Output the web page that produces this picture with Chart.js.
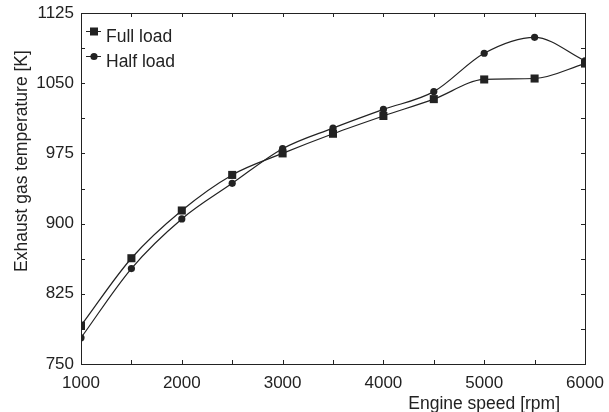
<!DOCTYPE html>
<html>
<head>
<meta charset="utf-8">
<script src="https://cdn.jsdelivr.net/npm/chart.js@4.4.0/dist/chart.umd.min.js"></script>
<style>
  html, body { margin: 0; padding: 0; background: #fff; }
  #wrap { width: 609px; height: 412px; }
</style>
</head>
<body>
<div id="wrap"><canvas id="chart1"></canvas></div>
<script>
const rpm = [1000, 1500, 2000, 2500, 3000, 3500, 4000, 4500, 5000, 5500, 6000];
const fullLoad = [791, 863, 914, 952, 975, 996, 1015, 1033, 1054, 1055, 1071];
const halfLoad = [778, 852, 905, 943, 980, 1002, 1022, 1041, 1082, 1099, 1074];
const seriesNames = ['Full load', 'Half load'];
const xTitle = 'Engine speed [rpm]';
const yTitle = 'Exhaust gas temperature [K]';

const ink = '#222';
const font = '"Liberation Sans", Arial, sans-serif';

function pts(ys) {
    return rpm.map((x, i) => ({x: x, y: ys[i]}));
}

// frame with inward ticks, axis titles and the legend inside the plot
const framePlugin = {
    id: 'frame',
    afterDraw(chart) {
        const ctx = chart.ctx;
        const a = chart.chartArea;
        const xs = chart.scales.x, ys = chart.scales.y;
        ctx.save();
        ctx.strokeStyle = ink;
        ctx.lineWidth = 1;
        ctx.strokeRect(Math.round(a.left) + 0.5, Math.round(a.top) + 0.5,
            Math.round(a.right - a.left), Math.round(a.bottom - a.top));
        ctx.beginPath();
        xs.ticks.forEach(t => {
            const px = Math.round(xs.getPixelForValue(t.value)) + 0.5;
            ctx.moveTo(px, a.bottom); ctx.lineTo(px, a.bottom - 4);
            ctx.moveTo(px, a.top); ctx.lineTo(px, a.top + 4);
        });
        ys.ticks.forEach(t => {
            const py = Math.round(ys.getPixelForValue(t.value)) + 0.5;
            ctx.moveTo(a.left, py); ctx.lineTo(a.left + 4, py);
            ctx.moveTo(a.right, py); ctx.lineTo(a.right - 4, py);
        });
        ctx.stroke();

        ctx.fillStyle = ink;
        ctx.font = '17.5px ' + font;
        ctx.textAlign = 'right';
        ctx.textBaseline = 'alphabetic';
        ctx.fillText(xTitle, 560, 409);

        ctx.save();
        ctx.translate(27, 161);
        ctx.rotate(-Math.PI / 2);
        ctx.textAlign = 'center';
        ctx.fillText(yTitle, 0, 0);
        ctx.restore();

        // legend
        const rows = [{y: 31, style: 'rect'}, {y: 56, style: 'circle'}];
        rows.forEach((r, i) => {
            ctx.beginPath();
            ctx.moveTo(86, r.y + 0.5); ctx.lineTo(101, r.y + 0.5);
            ctx.stroke();
            if (r.style === 'rect') {
                ctx.fillRect(90, r.y - 3.5, 8, 8);
            } else {
                ctx.beginPath();
                ctx.arc(94, r.y + 0.5, 3.6, 0, Math.PI * 2);
                ctx.fill();
            }
            ctx.textAlign = 'left';
            ctx.fillText(seriesNames[i], 106, r.y + 11);
        });
        ctx.restore();
    }
};

new Chart(document.getElementById('chart1'), {
    type: 'line',
    data: {
        datasets: [{
            label: seriesNames[0],
            data: pts(fullLoad),
            borderColor: ink,
            backgroundColor: ink,
            borderWidth: 1.2,
            pointStyle: 'rect',
            pointRadius: 5.7,
            pointBorderWidth: 0,
            cubicInterpolationMode: 'monotone',
            clip: 0
        }, {
            label: seriesNames[1],
            data: pts(halfLoad),
            borderColor: ink,
            backgroundColor: ink,
            borderWidth: 1.2,
            pointStyle: 'circle',
            pointRadius: 3.6,
            pointBorderWidth: 0,
            cubicInterpolationMode: 'monotone',
            clip: 0
        }]
    },
    options: {
        responsive: true,
        maintainAspectRatio: false,
        animation: false,
        events: [],
        layout: {padding: {left: 0, right: 24, top: 13, bottom: 0}},
        plugins: {
            legend: {display: false},
            tooltip: {enabled: false}
        },
        scales: {
            x: {
                type: 'linear',
                min: 1000,
                max: 6000,
                grid: {display: false, drawTicks: false},
                border: {display: false},
                ticks: {
                    stepSize: 500,
                    color: ink,
                    padding: 9,
                    maxRotation: 0,
                    autoSkip: false,
                    font: {family: font, size: 17},
                    callback: v => (v % 1000 === 0 ? v : '')
                },
                afterFit: s => { s.height = 48; s.paddingLeft = 0; s.paddingRight = 0; }
            },
            y: {
                min: 750,
                max: 1125,
                grid: {display: false, drawTicks: false},
                border: {display: false},
                ticks: {
                    stepSize: 37.5,
                    color: ink,
                    padding: 7,
                    autoSkip: false,
                    font: {family: font, size: 17},
                    callback: v => (Math.abs(v % 75) < 0.01 ? v : '')
                },
                afterFit: s => { s.width = 81; s.paddingTop = 0; s.paddingBottom = 0; }
            }
        }
    },
    plugins: [framePlugin]
});
</script>
</body>
</html>
